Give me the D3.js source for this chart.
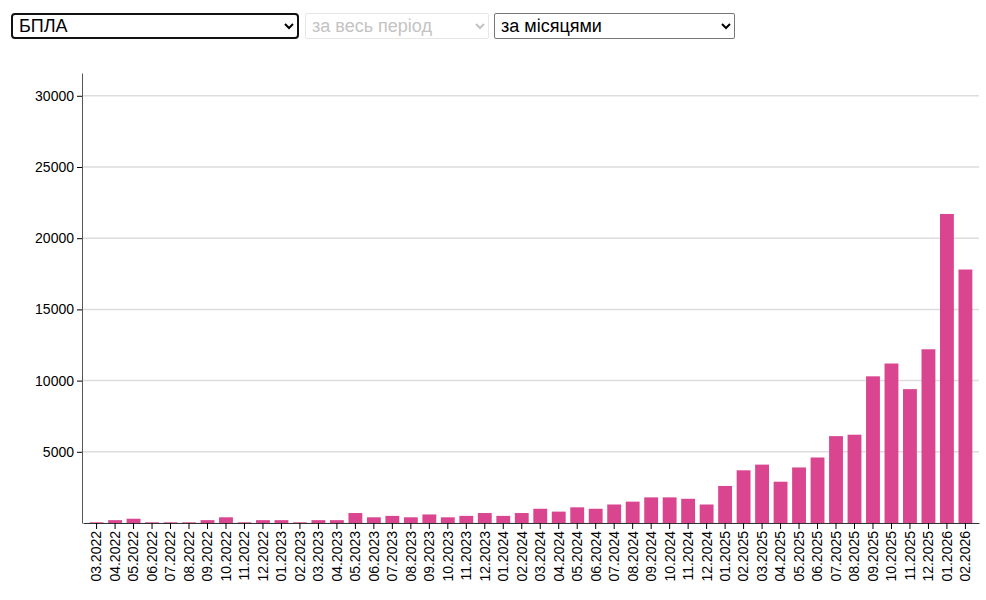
<!DOCTYPE html>
<html><head><meta charset="utf-8">
<script src="https://cdn.jsdelivr.net/npm/d3@7"></script>
<style>
body{margin:0;font-family:"Liberation Sans",Arial,sans-serif;background:#fff;}
select{position:absolute;top:13px;height:26px;font-size:18px;font-family:"Liberation Sans",Arial,sans-serif;background:#fff;border:1px solid #767676;border-radius:2px;padding:0 2px;}
#s1{left:11px;width:288px;border:2px solid #111;border-radius:4px;}
#s2{left:305px;width:184px;color:#aaa;border-color:#ddd;}
#s3{left:494px;width:241px;}
svg{position:absolute;left:0;top:0;}
</style></head><body>
<select id="s1"><option>БПЛА</option></select>
<select id="s2" disabled><option>за весь період</option></select>
<select id="s3"><option>за місяцями</option></select>
<svg width="986" height="600"></svg>
<script>
const months=["03.2022","04.2022","05.2022","06.2022","07.2022","08.2022","09.2022","10.2022","11.2022","12.2022","01.2023","02.2023","03.2023","04.2023","05.2023","06.2023","07.2023","08.2023","09.2023","10.2023","11.2023","12.2023","01.2024","02.2024","03.2024","04.2024","05.2024","06.2024","07.2024","08.2024","09.2024","10.2024","11.2024","12.2024","01.2025","02.2025","03.2025","04.2025","05.2025","06.2025","07.2025","08.2025","09.2025","10.2025","11.2025","12.2025","01.2026","02.2026"];
const values=[50,200,300,50,50,50,200,400,50,200,200,50,200,200,700,400,500,400,600,400,500,700,500,700,1000,800,1100,1000,1300,1500,1800,1800,1700,1300,2600,3700,4100,2900,3900,4600,6100,6200,10300,11200,9400,12200,21700,17800];
const yTicks=[5000,10000,15000,20000,25000,30000];
const svg=d3.select("svg");
const L=82,R=979,T=73,B=523;
const x=d3.scaleBand().domain(months).range([L+1,R]).paddingInner(0.25).paddingOuter(0.36);
const y=d3.scaleLinear().domain([0,31600]).range([B,T]);
svg.append("g").selectAll("line").data(yTicks).join("line")
 .attr("x1",L).attr("x2",R).attr("y1",d=>y(d)).attr("y2",d=>y(d)).attr("stroke","#ddd").attr("stroke-width",1.5);
svg.append("g").selectAll("rect").data(values).join("rect")
 .attr("x",(d,i)=>x(months[i])).attr("width",x.bandwidth())
 .attr("y",d=>y(d)).attr("height",d=>B-y(d)).attr("fill","#d9468f");
const ya=svg.append("g").attr("transform",`translate(${L},0)`).call(d3.axisLeft(y).tickValues(yTicks).tickFormat(d3.format("d")).tickSize(5).tickSizeOuter(0));
ya.selectAll("text").attr("font-size",14).attr("font-family","Liberation Sans, Arial").attr("fill","#000");
ya.select(".domain").attr("stroke","#555");
const xa=svg.append("g").attr("transform",`translate(0,${B})`).call(d3.axisBottom(x).tickSize(6).tickSizeOuter(0));
xa.select(".domain").attr("stroke","#333");
xa.selectAll("text").attr("font-size",14).attr("font-family","Liberation Sans, Arial").attr("fill","#000")
 .attr("transform","rotate(-90)").attr("text-anchor","end").attr("x",-8).attr("y",0).attr("dx",0).attr("dy","0.35em");
</script></body></html>
